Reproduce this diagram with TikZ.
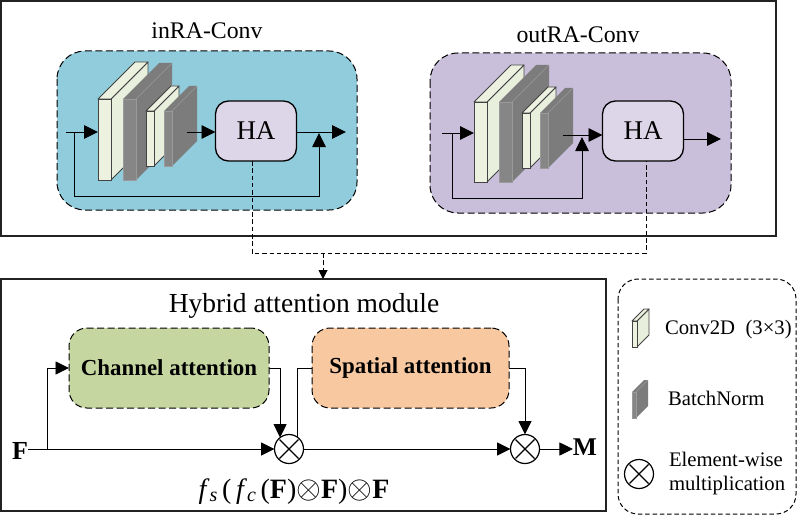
\documentclass[tikz,border=0pt]{standalone}
\usepackage{fontspec}
\setmainfont{Liberation Serif}
\usetikzlibrary{arrows.meta}
\definecolor{bluepanel}{HTML}{90CCDC}
\definecolor{purplepanel}{HTML}{CABFDB}
\definecolor{hafill}{HTML}{DDD6E8}
\definecolor{greenbox}{HTML}{C5D6A0}
\definecolor{orangebox}{HTML}{F8C8A0}
\definecolor{convfront}{HTML}{EDF2E0}
\definecolor{convside}{HTML}{E8EFDC}
\definecolor{normfront}{HTML}{868686}
\definecolor{normside}{HTML}{7C7C7C}
\definecolor{normedge}{HTML}{9A9A9A}
\definecolor{inkline}{HTML}{222222}
\newcommand{\bigotimesign}{\scalebox{1.28}{$\otimes$}}
\tikzset{
  x=1pt,y=-1pt,
  every node/.style={inner sep=0pt,outer sep=0pt},
  link/.style={draw=black,line width=.95pt},
  flow/.style={link,-{Triangle[length=14pt,width=13.5pt]}},
  flowsmall/.style={link,-{Triangle[length=13.5pt,width=13pt]}},
  frame/.style={draw=inkline,line width=1.1pt},
  dashedge/.style={draw=black,line width=1pt,dash pattern=on 7pt off 3.5pt},
  dashlink/.style={draw=black,line width=1pt,dash pattern=on 4.5pt off 2.8pt},
  panel/.style={dashedge,rounded corners=28pt},
  hablock/.style={draw=black,line width=1.3pt,fill=hafill,rounded corners=13pt,
    minimum width=81pt,minimum height=60pt,font=\fontsize{27}{27}\selectfont},
  attbox/.style={dashedge,rounded corners=18pt,minimum height=80pt,
    font=\fontsize{22.9}{24}\selectfont\bfseries},
  times/.style={circle,draw=black,line width=1.2pt,fill=white,minimum size=29pt,
    path picture={\draw[line width=1.2pt]
      ([shift={(-9.5pt,-9.5pt)}]path picture bounding box.center)--([shift={(9.5pt,9.5pt)}]path picture bounding box.center)
      ([shift={(-9.5pt,9.5pt)}]path picture bounding box.center)--([shift={(9.5pt,-9.5pt)}]path picture bounding box.center);}},
  heading/.style={anchor=base,font=\fontsize{23.8}{24}\selectfont},
  legendtext/.style={anchor=base west,font=\fontsize{20.7}{22}\selectfont},
  symbol/.style={anchor=base,font=\fontsize{26}{26}\selectfont\bfseries},
}
% Slab drawn as front face, top and side: x-left, x-right, y-top, y-bottom, depth
\newcommand{\convslab}[5]{%
  \draw[draw=inkline!85,line width=.9pt,fill=convside,line join=round]
    (#2,#3)--++(#5,-#5)--++(0,#4-#3)--(#2,#4)--cycle;
  \draw[draw=inkline!85,line width=.9pt,fill=convfront,line join=round]
    (#1,#3)--++(#5,-#5)--++(#2-#1,0)--(#2,#3)--cycle;
  \draw[draw=inkline!85,line width=.9pt,fill=convfront] (#1,#3) rectangle (#2,#4);}
\newcommand{\normslab}[5]{%
  \fill[normside] (#1,#3)--++(#5,-#5)--++(#2-#1,0)--++(0,#4-#3)--(#2,#4)--(#1,#4)--cycle;
  \draw[draw=normedge,line width=.8pt,fill=normfront] (#1,#3) rectangle (#2,#4);
  \draw[draw=normedge,line width=.6pt] (#2,#3)--++(#5,-#5);}
\begin{document}
\begin{tikzpicture}
\useasboundingbox (0,0) rectangle (797,516);
\fill[white] (0,0) rectangle (797,516);

% Upper and lower frames
\draw[frame] (1,1) rectangle (776,236);
\draw[frame] (1,279) rectangle (606,511);

% Coloured panels
\draw[panel,fill=bluepanel] (57,51) rectangle (357,210);
\draw[panel,fill=purplepanel] (430,53) rectangle (731,213);
\node[heading] (intitle) at (207,39) {inRA-Conv};
\node[heading] (outtitle) at (578,43) {outRA-Conv};

% inRA-Conv layer stack
\convslab{98}{111}{99}{180}{37}
\normslab{123}{136}{99}{180}{36}
\convslab{146}{154}{111}{166}{25}
\normslab{164}{172}{111}{166}{25}
\coordinate (instart) at (66,132);
\coordinate (inconv) at (98,132);
\coordinate (inbranch) at (74,132);
\coordinate (innorm) at (187,132);
\coordinate (inend) at (346,132);
\coordinate (inmerge) at (319,133);
\node[hablock] (inha) at (256,131) {HA};
\coordinate (intap) at (252,161);
\draw[flow] (instart)--(inconv);
\draw[flow] (innorm)--(inha.west|-innorm);
\draw[flow] (inha.east|-inend)--(inend);
\draw[flow] (inbranch)--(74,196)--(319,196)--(inmerge);

% outRA-Conv layer stack
\convslab{474}{487}{102}{182}{37}
\normslab{499}{512}{102}{182}{37}
\convslab{522}{530}{113}{168}{26}
\normslab{540}{548}{113}{168}{25}
\coordinate (outstart) at (442,133);
\coordinate (outconv) at (474,133);
\coordinate (outbranch) at (452,133);
\coordinate (outnorm) at (563,135);
\coordinate (outend) at (721,139);
\coordinate (outmerge) at (582,137);
\node[hablock] (outha) at (643,131) {HA};
\coordinate (outtap) at (646,161);
\draw[flow] (outstart)--(outconv);
\draw[flow] (outnorm)--(outha.west|-outnorm);
\draw[flow] (outbranch)--(452,198)--(582,198)--(outmerge);
\draw[flow] (outha.east|-outend)--(outend);

% Dashed links down to the hybrid attention module
\coordinate (join) at (323,253);
\coordinate (modtop) at (323,279);
\draw[dashlink] (intap)--(intap|-join)--(outtap|-join)--(outtap);
\draw[dashlink,-{Triangle[length=9pt,width=9pt]}] (join)--(modtop);

% Hybrid attention module
\node[anchor=base,font=\fontsize{27.5}{28}\selectfont] (modtitle) at (304,312) {Hybrid attention module};
\node[attbox,fill=greenbox,minimum width=200pt] (channel) at (169,368) {Channel attention};
\node[attbox,fill=orangebox,minimum width=197pt] (spatial) at (410.5,368) {Spatial attention};
\node[times] (mulone) at (289,449) {};
\node[times] (multwo) at (525,449) {};
\node[symbol] (fin) at (20,459) {F};
\node[symbol,font=\fontsize{25.5}{26}\selectfont\bfseries] (mout) at (585,455) {M};
\coordinate (fbranch) at (47,449);
\draw[flowsmall] (fin.east|-mulone)--(mulone.west);
\draw[flowsmall] (fbranch)--(fbranch|-channel)--(channel.west);
\draw[flowsmall] (channel.east)-|(mulone.128);
\draw[link] (spatial.west)-|(mulone.52);
\draw[flowsmall] (mulone.east)--(multwo.west);
\draw[flowsmall] (spatial.east)-|(multwo.north);
\draw[flowsmall] (multwo.east)--(mout.west|-multwo);
\node[anchor=base,font=\fontsize{28}{28}\selectfont] (formula) at (294,498)
  {\textit{f}\raisebox{-3pt}{\fontsize{20}{20}\selectfont\textit{s}}\,(\,\textit{f}\raisebox{-3pt}{\fontsize{20}{20}\selectfont\textit{c}}\,(\textbf{F})\bigotimesign\textbf{F})\bigotimesign\textbf{F}};

% Legend
\draw[dashlink,rounded corners=20pt] (618,279) rectangle (796,514);
\convslab{632}{637}{321}{347}{12}
\normslab{632}{636}{392}{418}{12}
\node[legendtext] (convlabel) at (665,334) {Conv2D\ \ (3×3)};
\node[legendtext] (normlabel) at (668,405) {BatchNorm};
\node[times] (mulkey) at (639,474) {};
\node[legendtext] (elemlabel) at (669,466) {Element-wise};
\node[legendtext] (multlabel) at (669,490) {multiplication};
\end{tikzpicture}
\end{document}
